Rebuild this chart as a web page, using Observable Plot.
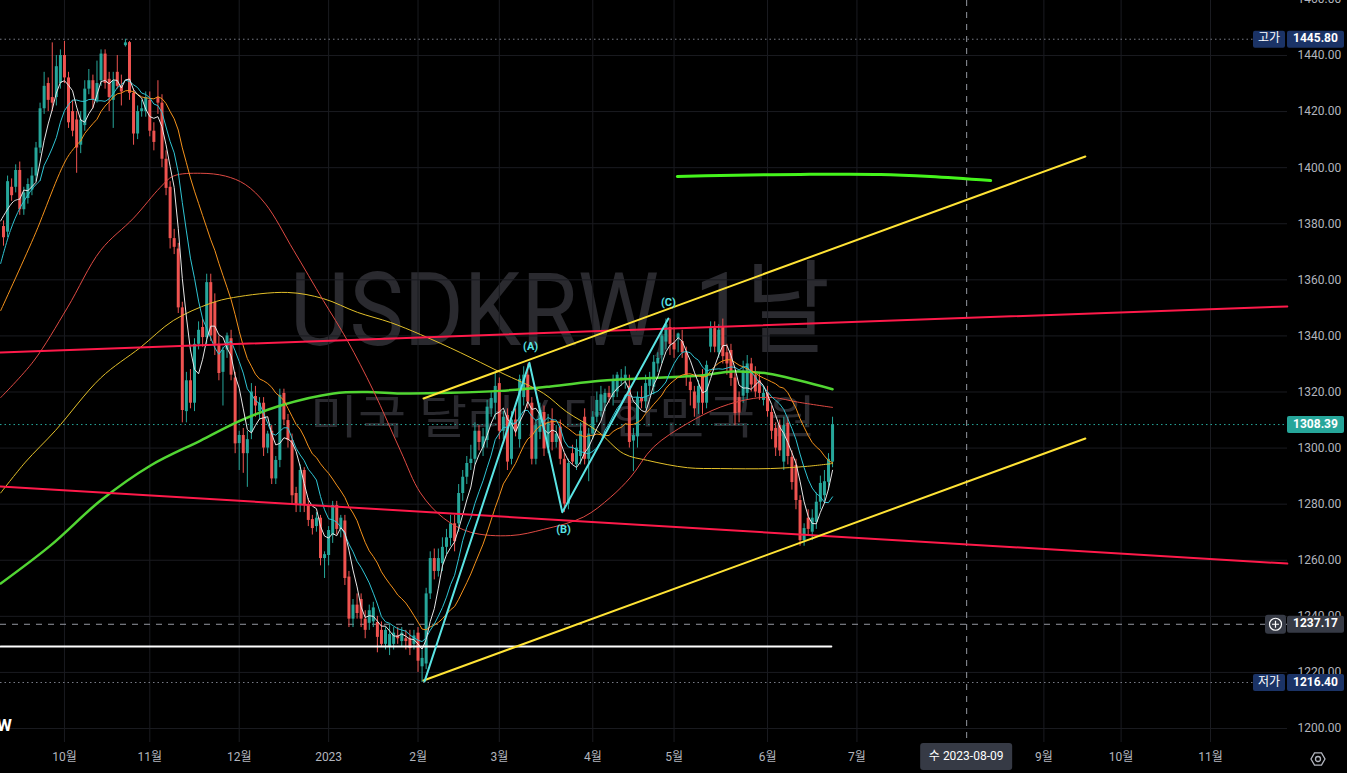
<!DOCTYPE html>
<html><head><meta charset="utf-8">
<script src="https://cdn.jsdelivr.net/npm/d3@7"></script>
<script src="https://cdn.jsdelivr.net/npm/@observablehq/plot@0.6"></script>
<style>
html,body{margin:0;padding:0;background:#000;overflow:hidden;}
svg text{font-family:Roboto,"Noto Sans CJK KR",sans-serif;}
</style></head><body><div id="chart"></div><script>
// ---- daily candles (bar index 0 = 2022-09-12, weekdays) ----
const opens=[1379,1377,1393,1393,1399,1385,1389,1392,1397,1407,1421,1430,1425,1425,1430,1440,1432,1420,1417,1408,1415,1428,1431,1424,1431,1440.5,1431.5,1424,1434,1429,1443.5,1444.6,1426.5,1412,1420,1420,1424,1413,1425,1423,1403,1393,1374.7,1371,1350,1313,1324,1316,1337,1343,1339.4,1359,1352,1337,1327,1335,1339,1325,1301.6,1304.5,1298,1305.6,1318.4,1313,1316,1300,1306,1289,1295.6,1319.5,1309.8,1302.7,1283.8,1279.5,1292,1279.5,1274.5,1272,1275,1260.6,1261.7,1268.8,1279.5,1271,1274,1254,1239,1244,1246,1239,1237.5,1238,1237.8,1235,1230,1229,1230,1233,1231,1232,1232,1230,1234,1222,1223,1248,1260.6,1256,1258.8,1264.6,1267.8,1273,1273,1283.8,1289.6,1294.5,1296,1306,1300,1302.7,1314,1316,1323,1306,1311.6,1296,1310,1303,1318,1326,1316,1296,1305.6,1312.7,1300,1310,1302,1307.5,1296,1280,1298,1294,1297,1311,1296,1305,1311,1313,1316,1319.5,1318,1320,1324,1324,1322,1302.5,1304,1318,1316.5,1322,1321.7,1330,1333,1337.8,1343,1337.5,1339,1338,1334,1323.5,1320,1316,1326,1316,1336,1342.6,1334,1343,1334,1334.8,1325,1318,1318.5,1319.5,1330,1326,1324,1317,1319.5,1312.7,1307,1308,1295,1308.8,1296.7,1293.8,1281.3,1267,1275,1270,1273.5,1280.7,1283,1287.8,1295];
const highs=[1381,1397,1396,1401,1402,1393,1396,1400,1409,1423,1434,1432,1444.5,1440,1442,1445,1434,1424,1420,1420,1431,1435,1433,1438,1442,1442,1434,1434,1440,1433,1445.8,1445,1428,1422,1424,1427,1427,1416,1431,1426,1406,1395,1378,1373,1352,1327,1328,1339,1345,1346,1362,1362,1355,1340,1336,1341,1342,1327,1306,1307,1306,1323,1322,1318,1318,1306,1308,1297,1321,1321,1312,1305,1286,1294,1293,1282,1276,1277,1276,1263,1272,1281,1281,1276,1276,1256,1246,1248,1248,1242,1244,1245,1240,1238,1236,1237,1236,1236,1236,1235,1235,1235,1236,1228,1250,1263,1264,1264,1268,1271,1276,1276,1287,1292,1297,1301,1309,1308,1307,1317,1320,1326.7,1325,1313,1314,1313,1314,1326,1329,1330,1318,1310,1316,1315,1312,1314,1308,1310,1298,1296,1301,1303,1309,1314,1307,1313,1320,1322,1321,1322,1326,1327,1328,1329,1326,1307,1320,1322,1326,1327,1333,1334,1342,1346,1346,1343,1341,1342,1336,1326,1322,1324,1328,1331,1345,1345,1344,1346,1337,1337,1327,1320,1331,1333,1332,1329,1327,1322,1322,1315,1309,1310,1311,1311,1299,1296,1283,1273,1278,1278,1284,1290,1292,1298,1311];
const lows=[1372,1375,1388,1391,1383,1383,1387,1390,1395,1405,1419,1420,1420,1422,1428,1430,1414,1411,1398,1405,1413,1426,1421,1423,1429,1428,1420,1414,1428,1422,1443,1424,1408,1410,1418,1418,1411,1406,1419,1400,1390,1371,1369,1348,1309,1309,1314,1313,1335,1336,1337,1338,1333,1324,1315,1332,1324,1298,1292,1291,1286,1303,1311,1310,1297,1298,1287,1287,1293,1308,1300,1280,1277,1277,1277,1272,1269,1270,1258,1253.5,1258,1266,1269,1268,1251,1236,1236,1239,1236,1232,1235,1236,1227,1229,1228,1226,1228,1230,1229,1228,1226,1228,1220,1216.4,1221,1246,1253,1254,1256,1262,1265,1263,1270,1281,1287,1292,1294,1299,1297,1300,1311,1310,1303,1303,1292,1294,1304,1300,1315,1314,1294,1294,1303,1297,1298,1299,1300,1294,1277,1278,1294,1292,1294,1294,1288,1303,1309,1311,1313,1316,1315,1318,1322,1321,1300,1291.6,1300,1314,1314,1319,1319,1327,1330,1335,1333,1332,1334,1332,1322,1315,1311,1312,1312,1314,1334,1334,1332,1330,1326,1322,1308,1309,1316,1317,1320,1318,1317,1315,1311,1303,1297,1297,1292,1294,1285,1278,1265,1265,1269,1267,1271,1278,1281,1285,1293];
const closes=[1375,1395,1390,1399,1385,1391,1394,1397,1407,1421,1429,1424,1423,1436,1440,1432,1416,1413,1407,1417,1428,1431,1424,1430,1440.5,1430,1425,1431,1429,1427,1444.5,1426.5,1412,1420,1421,1425,1413,1409,1423,1403,1392.6,1374.7,1371.6,1350,1313.4,1324,1316,1337,1342,1339.4,1359,1340,1337,1326.6,1334.8,1340,1326,1301.5,1304.5,1298,1303,1320,1315,1316,1300,1305,1289,1295.6,1318.8,1310,1302.7,1283,1279.5,1292,1279.5,1274.2,1271.3,1275,1260.6,1262,1270.6,1279.5,1271,1275,1253.5,1239,1244,1241,1239,1235,1242,1243,1232.5,1230,1235,1233.5,1234,1232,1234,1231,1228.5,1233,1224,1225,1248,1260.6,1256,1260.6,1264.6,1268,1273,1266.6,1283.8,1289.6,1294.5,1296,1306,1302,1304,1314.6,1317.7,1322,1306,1311,1295,1310,1306,1324.5,1326,1316.4,1296,1308,1313.4,1299.7,1309,1302,1305,1296,1280,1294.5,1295,1300,1306,1296,1305,1311,1317,1319,1319.5,1318,1324,1326,1325,1326,1302,1304.5,1318,1316.5,1323,1325,1330.6,1332,1340,1344,1337,1335,1340.7,1334,1326,1320.5,1314,1322,1316,1329.5,1342.6,1336,1342,1332.6,1330,1324.8,1312.3,1312.5,1327.5,1330,1322.5,1320,1319.5,1319.5,1313,1306,1300,1299,1308,1297,1287.7,1281.3,1267,1271.3,1271,1275,1280.7,1287.4,1288,1296,1308.39];

// ---- axes ----
const yTicks=[1200,1220,1240,1260,1280,1300,1320,1340,1360,1380,1400,1420,1440,1460];
const monthTickIdx=[15,36,58,80,102,122,145,165,188,210,256,275,297];
const monthTickLabels=["10월","11월","12월","2023","2월","3월","4월","5월","6월","7월","9월","10월","11월"];

// ---- moving-average heads before the first full window ----
const ma5HeadIdx=[-0.7,2.5,4], ma5HeadVal=[1381,1388,1388.8];
const ma10HeadIdx=[-0.7,1.7,4.2,7.4,9], ma10HeadVal=[1365.8,1377.6,1386,1393,1395.4];
const ma20HeadIdx=[-0.7,7.4,15.7,19], ma20HeadVal=[1349,1375,1403.6,1409.6];

// ---- long moving averages (bar index, price) ----
const ma60Idx=[-0.7,7.4,15.7,23.9,32,38.6,41.8,48.5,54.6,59.5,64.5,71.4,78.7,84.6,91,97.7,102.6,108.3,114.9,124.8,132.9,142.7,149.4,154.3,159.9,168.3,176.4,184.5,189.5,195.4,204];
const ma60Val=[1318,1331,1350,1370.5,1382,1393,1397,1398,1397,1394,1387,1370.5,1352.6,1338.4,1320.5,1299,1284,1275,1270,1268.8,1271,1275.4,1282.5,1289.6,1300.3,1308.8,1314.6,1317.7,1318,1316.4,1314.5];
const ma120Idx=[-0.7,5.4,12.8,23.9,33.7,41.8,50.9,56.6,69.9,78.7,87.1,95.2,102.6,112.5,122.3,132.9,138.5,146.2,152.6,158.5,168.3,176.4,188.7,197.8,204];
const ma120Val=[1284,1295,1306.3,1325,1335.9,1345.5,1351.6,1353.7,1355.5,1353.3,1348.4,1344.8,1340.5,1334,1327,1319.5,1313,1306,1298,1295.6,1293,1292.7,1292.7,1293.5,1294.5];
const ma200Idx=[-0.7,11.6,23.9,36.2,48.5,58.3,68.2,81.2,89.6,97.7,110,122.3,134.6,146.9,159.2,171.5,179.6,188,196.1,204];
const ma200Val=[1251.7,1265.3,1281.3,1293.8,1302.7,1309.8,1315.2,1319.5,1320,1319.5,1319.7,1320.4,1322,1324,1325,1325.9,1327.3,1326.6,1324,1321];

// ---- drawings ----
const chanUpIdx=[103.35,266.2], chanUpVal=[1317.7,1404.0];
const chanLoIdx=[103.35,266.2], chanLoVal=[1217.1,1303.4];
const redUpIdx=[-0.74,315.9], redUpVal=[1334.1,1350.5];
const redLoIdx=[-0.74,315.9], redLoVal=[1286.3,1258.8];
const whiteIdx=[-0.74,203.7], whiteVal=[1229.2,1229.2];
const greenIdx=[165.8,176.4,196.1,215.8,228.1,242.9];
const greenVal=[1396.85,1397.2,1397.6,1397.6,1396.85,1395.4];
const waveIdx=[103.6,129.4,137.5,163.6];
const waveVal=[1216.8,1330.4,1277.1,1346.2];
const waveLabels=["(A)","(B)","(C)"];
const waveLabelIdx=[129.7,137.8,163.6];
const waveLabelVal=[1336.2,1271.0,1351.9];

const highPrice=1445.80, lowPrice=1216.40, lastPrice=1308.39, crossPrice=1237.17, crossIdx=237;
const crossDate="수 2023-08-09";

const TEAL="#26a69a", RED="#ef5350";
const bars=closes.map((c,i)=>({i,o:opens[i],h:highs[i],l:lows[i],c,col:c>=opens[i]?TEAL:RED}));
const pairs=(xs,ys)=>xs.map((x,j)=>[x,ys[j]]);
const labelMap=new Map(monthTickIdx.map((d,i)=>[d,monthTickLabels[i]]));

const plot=Plot.plot({
  width:1347,height:773,
  marginTop:0,marginLeft:0,marginRight:60,marginBottom:31,
  style:{background:"#000",color:"#b2b5be",fontSize:"12px",fontFamily:'Roboto,"Noto Sans CJK KR",sans-serif'},
  x:{type:"linear",domain:[-0.738,315.945]},
  y:{type:"linear",domain:[1195.007,1459.61]},
  color:{type:"identity"},
  marks:[
    Plot.gridY({ticks:yTicks,stroke:"#1a1b20",strokeOpacity:1}),
    Plot.gridX({ticks:monthTickIdx,stroke:"#1a1b20",strokeOpacity:1}),
    Plot.axisY({ticks:yTicks,anchor:"right",tickSize:0,tickPadding:10,tickFormat:d=>d.toFixed(2),label:null,fill:"#b2b5be",fontSize:12}),
    Plot.axisX({ticks:monthTickIdx,anchor:"bottom",tickSize:0,tickPadding:10,tickFormat:d=>labelMap.get(d),label:null,fill:"#b2b5be",fontSize:12}),
    Plot.ruleY([highPrice],{stroke:"#787b86",strokeDasharray:"1.5,3"}),
    Plot.ruleY([lowPrice],{stroke:"#787b86",strokeDasharray:"1.5,3"}),
    Plot.ruleY([lastPrice],{stroke:TEAL,strokeDasharray:"1.5,3"}),
    Plot.ruleY([crossPrice],{stroke:"#9598a1",strokeDasharray:"6,6"}),
    Plot.ruleX([crossIdx],{stroke:"#9598a1",strokeDasharray:"6,6"}),
    // candles
    Plot.ruleX(bars,{x:"i",y1:"l",y2:"h",stroke:"col",strokeWidth:1}),
    Plot.ruleX(bars,{x:"i",y1:"o",y2:d=>Math.abs(d.c-d.o)<0.4?d.o+0.4:d.c,stroke:"col",strokeWidth:3}),
    // moving averages
    Plot.line(pairs(ma200Idx,ma200Val),{curve:"catmull-rom",stroke:"#52d633",strokeWidth:2.5}),
    Plot.line(pairs(ma120Idx,ma120Val),{curve:"catmull-rom",stroke:"#e3c02a",strokeWidth:1}),
    Plot.line(pairs(ma60Idx,ma60Val),{curve:"catmull-rom",stroke:"#df4a43",strokeWidth:1}),
    Plot.line(pairs(ma20HeadIdx,ma20HeadVal),{curve:"catmull-rom",stroke:"#f5921b",strokeWidth:1}),
    Plot.lineY(bars,Plot.windowY({k:20,anchor:"end",strict:true},{x:"i",y:"c",stroke:"#f5921b",strokeWidth:1})),
    Plot.line(pairs(ma10HeadIdx,ma10HeadVal),{curve:"catmull-rom",stroke:"#2fc4d3",strokeWidth:1}),
    Plot.lineY(bars,Plot.windowY({k:10,anchor:"end",strict:true},{x:"i",y:"c",stroke:"#2fc4d3",strokeWidth:1})),
    Plot.line(pairs(ma5HeadIdx,ma5HeadVal),{curve:"catmull-rom",stroke:"#e6e6e6",strokeWidth:1}),
    Plot.lineY(bars,Plot.windowY({k:5,anchor:"end",strict:true},{x:"i",y:"c",stroke:"#e6e6e6",strokeWidth:1})),
    // drawings
    Plot.line(pairs(redUpIdx,redUpVal),{stroke:"#ff1a4a",strokeWidth:2}),
    Plot.line(pairs(redLoIdx,redLoVal),{stroke:"#ff1a4a",strokeWidth:2}),
    Plot.line(pairs(whiteIdx,whiteVal),{stroke:"#ffffff",strokeWidth:2}),
    Plot.line(pairs(chanUpIdx,chanUpVal),{stroke:"#ffe335",strokeWidth:2}),
    Plot.line(pairs(chanLoIdx,chanLoVal),{stroke:"#ffe335",strokeWidth:2}),
    Plot.line(pairs(greenIdx,greenVal),{curve:"catmull-rom",stroke:"#45f51c",strokeWidth:3}),
    Plot.line(pairs(waveIdx,waveVal),{stroke:"#5ae4e4",strokeWidth:2}),
    Plot.text(waveLabels,{x:(d,i)=>waveLabelIdx[i],y:(d,i)=>waveLabelVal[i],text:d=>d,fill:"#5ae4e4",fontSize:11,fontWeight:"bold"})
  ]
});
document.getElementById("chart").appendChild(plot);

// ---- overlays (watermark, price tags) positioned through the plot scales ----
const svg=d3.select(plot);
const sx=v=>plot.scale("x").apply(v), sy=v=>plot.scale("y").apply(v);
const wm=svg.insert("g",":first-child").attr("pointer-events","none").attr("text-anchor","start");
wm.append("text").attr("x",290).attr("y",345).attr("font-size",102).attr("fill","#2a2a2f").attr("text-anchor","start")
  .attr("textLength",540).attr("lengthAdjust","spacingAndGlyphs").text("USDKRW, 1날");
wm.append("text").attr("x",310).attr("y",433).attr("font-size",46).attr("fill","#2a2a2f").attr("text-anchor","start")
  .attr("textLength",506).attr("lengthAdjust","spacingAndGlyphs").text("미국 달러 / 대한민국 원");
svg.insert("rect",":first-child").attr("width",1347).attr("height",773).attr("fill","#000");

const ov=svg.append("g");
function tag(price,txt,bg,side){
  const y=sy(price);
  ov.append("rect").attr("x",1287).attr("y",y-8).attr("width",57).attr("height",17).attr("rx",2).attr("fill",bg);
  ov.append("text").attr("x",1315.5).attr("y",y+0.5).attr("text-anchor","middle").attr("dominant-baseline","middle")
    .attr("fill","#fff").attr("font-size",12).attr("font-weight","bold").text(txt);
  if(side){
    ov.append("rect").attr("x",1253).attr("y",y-8).attr("width",32).attr("height",17).attr("rx",2).attr("fill",bg);
    ov.append("text").attr("x",1269).attr("y",y+0.5).attr("text-anchor","middle").attr("dominant-baseline","middle")
      .attr("fill","#fff").attr("font-size",12).text(side);
  }
}
tag(highPrice,highPrice.toFixed(2),"#1b3366","고가");
tag(lowPrice,lowPrice.toFixed(2),"#1b3366","저가");
tag(lastPrice,lastPrice.toFixed(2),TEAL,null);
tag(crossPrice,crossPrice.toFixed(2),"#363a45",null);
// plus button next to crosshair price
{const y=sy(crossPrice);
 ov.append("rect").attr("x",1265).attr("y",y-9).attr("width",21).attr("height",19).attr("rx",3).attr("fill","#363a45");
 ov.append("circle").attr("cx",1275.5).attr("cy",y+0.5).attr("r",6).attr("fill","none").attr("stroke","#fff").attr("stroke-width",1.2);
 ov.append("path").attr("d",`M1272,${y+0.5}H1279M1275.5,${y-3}V${y+4}`).attr("stroke","#fff").attr("stroke-width",1.2);}
// crosshair date
{const x=sx(crossIdx);
 ov.append("rect").attr("x",x-46).attr("y",743).attr("width",92).attr("height",27).attr("rx",3).attr("fill","#363a45");
 ov.append("text").attr("x",x).attr("y",757).attr("text-anchor","middle").attr("dominant-baseline","middle")
   .attr("fill","#fff").attr("font-size",12).text(crossDate);}
// settings icon
{const cx=1318,cy=759,r=7;
 const pts=d3.range(6).map(k=>{const a=Math.PI/3*k;return [cx+r*Math.cos(a),cy+r*Math.sin(a)];});
 ov.append("path").attr("d","M"+pts.join("L")+"Z").attr("fill","none").attr("stroke","#b2b5be").attr("stroke-width",1.3);
 ov.append("circle").attr("cx",cx).attr("cy",cy).attr("r",2.5).attr("fill","none").attr("stroke","#b2b5be").attr("stroke-width",1.3);}
// logo fragment
ov.append("text").attr("x",-3).attr("y",731).attr("font-size",17).attr("font-weight","bold").attr("fill","#fff").attr("text-anchor","start").text("W");
</script></body></html>
